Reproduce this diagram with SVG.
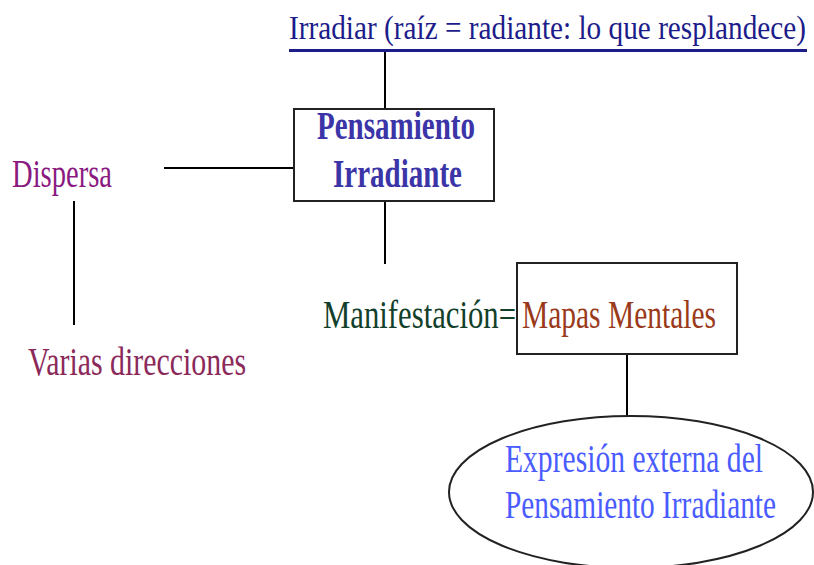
<svg xmlns="http://www.w3.org/2000/svg" width="814" height="565" viewBox="0 0 814 565">
<style>
text{font-family:"Liberation Serif","Times New Roman",serif;}
.ln{stroke:#000;stroke-width:2;fill:none;}
.box{fill:#fff;stroke:#222;stroke-width:2;}
</style>
<rect width="814" height="565" fill="#fff"/>
<g id="connectors">
<line class="ln" x1="385" y1="51" x2="385" y2="109"/>
<line class="ln" x1="164" y1="168" x2="294" y2="168"/>
<line class="ln" x1="385" y1="202" x2="385" y2="264"/>
<line class="ln" x1="74" y1="201" x2="74" y2="325"/>
<line class="ln" x1="627" y1="355" x2="627" y2="416"/>
</g>
<g id="title">
<text x="289" y="39" font-size="34" fill="#1c1c8a" textLength="517" lengthAdjust="spacingAndGlyphs">Irradiar (raíz = radiante: lo que resplandece)</text>
<line x1="289" y1="50.5" x2="807" y2="50.5" stroke="#1c1c8a" stroke-width="3"/>
</g>
<g id="pensamiento">
<rect class="box" x="294" y="109" width="200" height="92"/>
<text x="317" y="139" font-size="39" font-weight="bold" fill="#3b35a8" textLength="158" lengthAdjust="spacingAndGlyphs">Pensamiento</text>
<text x="333" y="187" font-size="39" font-weight="bold" fill="#3b35a8" textLength="129" lengthAdjust="spacingAndGlyphs">Irradiante</text>
</g>
<g id="dispersa">
<text x="12" y="187" font-size="39" fill="#8a1a80" textLength="100" lengthAdjust="spacingAndGlyphs">Dispersa</text>
</g>
<g id="varias">
<text x="28" y="375" font-size="39" fill="#8b2a5a" textLength="218" lengthAdjust="spacingAndGlyphs">Varias direcciones</text>
</g>
<g id="manifestacion">
<text x="323" y="328" font-size="41" fill="#12402a" textLength="193" lengthAdjust="spacingAndGlyphs">Manifestación=</text>
</g>
<g id="mapas">
<rect class="box" x="517" y="263" width="220" height="91"/>
<text x="522" y="328" font-size="41" fill="#9a3a1a" textLength="194" lengthAdjust="spacingAndGlyphs">Mapas Mentales</text>
</g>
<g id="expresion">
<ellipse cx="631" cy="492" rx="182" ry="76" fill="#fff" stroke="#222" stroke-width="2"/>
<text x="505" y="472" font-size="39" fill="#4a5cff" textLength="258" lengthAdjust="spacingAndGlyphs">Expresión externa del</text>
<text x="505" y="518" font-size="39" fill="#4a5cff" textLength="271" lengthAdjust="spacingAndGlyphs">Pensamiento Irradiante</text>
</g>
</svg>
